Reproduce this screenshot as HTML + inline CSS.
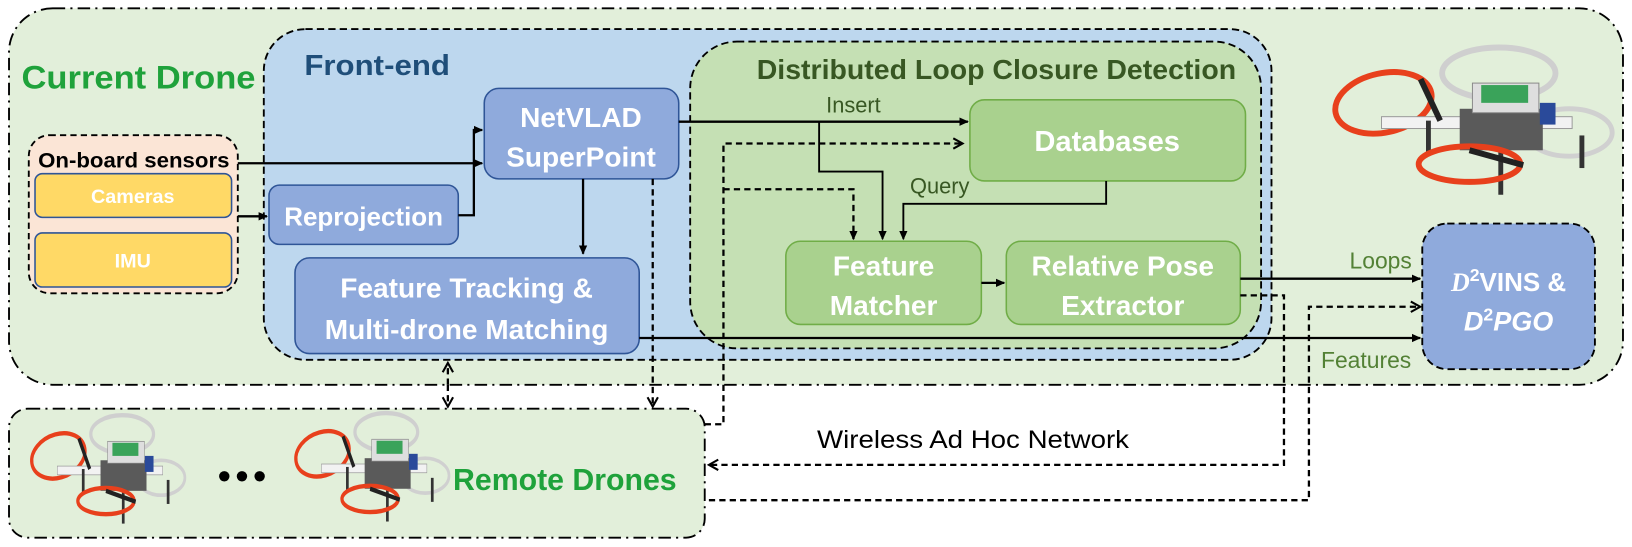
<!DOCTYPE html>
<html><head><meta charset="utf-8"><style>
html,body{margin:0;padding:0;background:#fff;}
svg{display:block;}
text{font-family:"Liberation Sans",sans-serif;}
</style></head><body>
<svg width="1632" height="547" viewBox="0 0 1568 526" xmlns="http://www.w3.org/2000/svg">
<defs>
<marker id="a" markerWidth="10" markerHeight="10" refX="8" refY="5" orient="auto" markerUnits="userSpaceOnUse"><path d="M0,1 L9,5 L0,9 Z" fill="#000"/></marker>
<marker id="o" markerWidth="12" markerHeight="12" refX="10" refY="6" orient="auto" markerUnits="userSpaceOnUse"><path d="M1,1 L10,6 L1,11" fill="none" stroke="#000" stroke-width="2"/></marker>
<g id="drone">
<ellipse cx="190" cy="32" rx="58" ry="26" fill="none" stroke="#cfcfcf" stroke-width="6"/>
<ellipse cx="72" cy="62" rx="50" ry="30" fill="none" stroke="#e8401c" stroke-width="6" transform="rotate(-12 72 62)"/>
<rect x="70" y="76" width="195" height="12" fill="#f2f2f2" stroke="#999"/>
<ellipse cx="262" cy="92" rx="44" ry="24" fill="none" stroke="#d0d0d0" stroke-width="5"/>
<rect x="150" y="68" width="85" height="42" fill="#5a5a5a"/>
<rect x="163" y="42" width="68" height="30" fill="#dedede" stroke="#888"/>
<rect x="172" y="44" width="48" height="18" fill="#3aa35a"/>
<rect x="232" y="62" width="16" height="22" fill="#2a4a9a"/>
<line x1="118" y1="80" x2="118" y2="112" stroke="#333" stroke-width="5"/>
<line x1="275" y1="95" x2="275" y2="128" stroke="#333" stroke-width="5"/>
<line x1="192" y1="110" x2="192" y2="155" stroke="#333" stroke-width="5"/>
<ellipse cx="160" cy="124" rx="52" ry="18" fill="none" stroke="#e8401c" stroke-width="6"/>
<line x1="110" y1="38" x2="130" y2="80" stroke="#222" stroke-width="6"/>
<line x1="160" y1="110" x2="215" y2="125" stroke="#222" stroke-width="6"/>
</g>
</defs>

<rect x="8" y="8" width="1552" height="362" rx="42" fill="#e2efda" stroke="#000" stroke-width="1.8" stroke-dasharray="12,5,2,5"/>
<text x="20" y="85" font-size="31" font-weight="bold" fill="#1fa23b" textLength="225" lengthAdjust="spacingAndGlyphs">Current Drone</text>

<rect x="253" y="28" width="969" height="318" rx="40" fill="#bdd7ee" stroke="#000" stroke-width="1.8" stroke-dasharray="7,4"/>
<text x="292" y="72" font-size="28" font-weight="bold" fill="#1f4e79" textLength="140" lengthAdjust="spacingAndGlyphs">Front-end</text>

<rect x="663" y="40" width="549" height="295" rx="45" fill="#c5e0b4" stroke="#000" stroke-width="1.8" stroke-dasharray="7,4"/>
<text x="727" y="76" font-size="27" font-weight="bold" fill="#385723" textLength="461" lengthAdjust="spacingAndGlyphs">Distributed Loop Closure Detection</text>

<rect x="27" y="130" width="201" height="152" rx="20" fill="#fbe5d6" stroke="#000" stroke-width="1.8" stroke-dasharray="6,4"/>
<text x="36" y="161" font-size="20" font-weight="bold" fill="#000" textLength="184" lengthAdjust="spacingAndGlyphs">On-board sensors</text>
<rect x="33" y="167" width="189" height="42" rx="7" fill="#ffd966" stroke="#2f5597" stroke-width="1.5"/>
<text x="127" y="195" font-size="19" font-weight="bold" fill="#fff" text-anchor="middle">Cameras</text>
<rect x="33" y="224" width="189" height="52" rx="7" fill="#ffd966" stroke="#2f5597" stroke-width="1.5"/>
<text x="127" y="257" font-size="19" font-weight="bold" fill="#fff" text-anchor="middle">IMU</text>

<g fill="#8faadc" stroke="#2f5597" stroke-width="1.5">
<rect x="258" y="178" width="182" height="57" rx="10"/>
<rect x="465" y="85" width="187" height="87" rx="14"/>
<rect x="283" y="248" width="331" height="92" rx="14"/>
</g>
<g font-weight="bold" fill="#fff" text-anchor="middle">
<text x="349" y="217" font-size="25">Reprojection</text>
<text x="558" y="122" font-size="27">NetVLAD</text>
<text x="558" y="160" font-size="27">SuperPoint</text>
<text x="448" y="286" font-size="27">Feature Tracking &amp;</text>
<text x="448" y="326" font-size="27">Multi-drone Matching</text>
</g>

<g fill="#a9d18e" stroke="#70ad47" stroke-width="1.5">
<rect x="932" y="96" width="265" height="78" rx="14"/>
<rect x="755" y="232" width="188" height="80" rx="14"/>
<rect x="967" y="232" width="225" height="80" rx="14"/>
</g>
<g font-weight="bold" fill="#fff" text-anchor="middle">
<text x="1064" y="145" font-size="28">Databases</text>
<text x="849" y="265" font-size="27">Feature</text>
<text x="849" y="303" font-size="27">Matcher</text>
<text x="1079" y="265" font-size="27">Relative Pose</text>
<text x="1079" y="303" font-size="27">Extractor</text>
</g>

<rect x="1367" y="215" width="166" height="140" rx="24" fill="#8faadc" stroke="#000" stroke-width="1.8" stroke-dasharray="7,4"/>
<text x="1450" y="280" font-size="25" font-weight="bold" fill="#fff" text-anchor="middle"><tspan font-family="Liberation Serif" font-style="italic">D</tspan><tspan dy="-10" font-size="17">2</tspan><tspan dy="10">VINS &amp;</tspan></text>
<text x="1450" y="318" font-size="26" font-weight="bold" fill="#fff" text-anchor="middle" font-family="Liberation Serif" font-style="italic">D<tspan dy="-10" font-size="17" font-style="normal">2</tspan><tspan dy="10">PGO</tspan></text>

<rect x="8" y="393" width="669" height="124" rx="18" fill="#e2efda" stroke="#000" stroke-width="1.8" stroke-dasharray="12,5,2,5"/>
<text x="435" y="471" font-size="29" font-weight="bold" fill="#1fa23b" textLength="215" lengthAdjust="spacingAndGlyphs">Remote Drones</text>
<circle cx="215" cy="458" r="5" fill="#000"/><circle cx="232" cy="458" r="5" fill="#000"/><circle cx="249" cy="458" r="5" fill="#000"/>
<use href="#drone" transform="translate(18,395) scale(0.52,0.7)"/>
<use href="#drone" transform="translate(272,393) scale(0.52,0.7)"/>
<use href="#drone" transform="translate(1262,40) scale(0.94,0.95)"/>

<text x="785" y="431" font-size="24" fill="#000" textLength="300" lengthAdjust="spacingAndGlyphs">Wireless Ad Hoc Network</text>

<g fill="none" stroke="#000" stroke-width="2.2">
<path d="M228,157 H463" marker-end="url(#a)"/>
<path d="M228,208 H256" marker-end="url(#a)"/>
<path d="M440,207 H455 V125 H463" marker-end="url(#a)"/>
<path d="M560,172 V244" marker-end="url(#a)"/>
<path d="M652,117 H930" marker-end="url(#a)"/>
<path d="M787,117 V165 H848 V230" stroke-width="1.8" marker-end="url(#a)"/>
<path d="M1063,174 V196 H868 V230" stroke-width="1.8" marker-end="url(#a)"/>
<path d="M943,272 H965" marker-end="url(#a)"/>
<path d="M1192,268 H1365" marker-end="url(#a)"/>
<path d="M614,325 H1365" marker-end="url(#a)"/>
</g>
<text x="820" y="108" font-size="21" fill="#385723" text-anchor="middle">Insert</text>
<text x="903" y="186" font-size="21" fill="#385723" text-anchor="middle">Query</text>
<text x="1327" y="258" font-size="22" fill="#538135" text-anchor="middle">Loops</text>
<text x="1313" y="354" font-size="22" fill="#538135" text-anchor="middle">Features</text>

<g fill="none" stroke="#000" stroke-width="2.2" stroke-dasharray="6,4">
<path d="M677,408 H695 V138 H925" marker-end="url(#o)"/>
<path d="M695,182 H820 V230" marker-end="url(#a)"/>
<path d="M627,172 V391" marker-end="url(#o)"/>
<path d="M430,370 V391" marker-end="url(#o)"/>
<path d="M430,370 V349" marker-end="url(#o)"/>
<path d="M1192,284 H1234 V447 H681" marker-end="url(#o)"/>
<path d="M681,481 H1258 V295 H1365" marker-end="url(#o)"/>
</g>
</svg>
</body></html>
